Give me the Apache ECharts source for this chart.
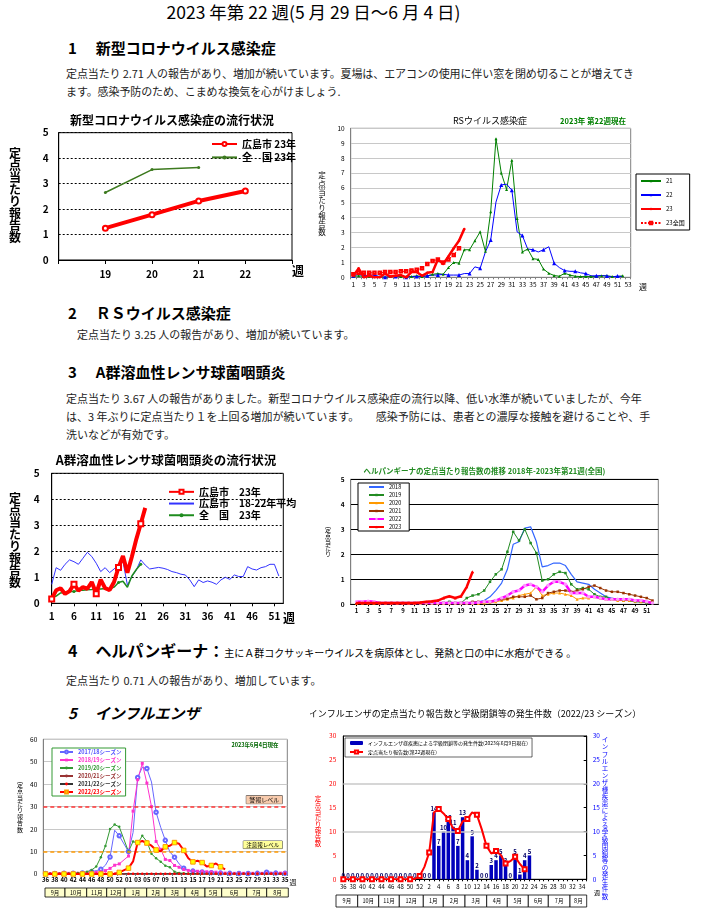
<!DOCTYPE html>
<html lang="ja">
<head>
<meta charset="utf-8">
<title>2023年第22週</title>
<script src="https://cdn.jsdelivr.net/npm/echarts@6/dist/echarts.min.js"></script>
<style>
html,body{margin:0;padding:0;background:#fff;}
body{width:711px;height:912px;position:relative;overflow:hidden;font-family:"Noto Sans CJK JP","Noto Sans",sans-serif;color:#111;}
.t{position:absolute;white-space:nowrap;line-height:1;}
.h{font-size:15px;font-weight:bold;color:#000;}
.p{font-size:11px;line-height:18px;color:#222;}
.chart{position:absolute;}
</style>
</head>
<body>
<div class="t" style="left:160px;top:3px;width:307px;text-align:center;font-size:17.5px;color:#000;">2023 年第 22 週(5 月 29 日～6 月 4 日)</div>

<div class="t h" style="left:68px;top:39.5px;"><span>1</span><span style="margin-left:19px;">新型コロナウイルス感染症</span></div>
<div class="t p" style="left:66px;top:64px;letter-spacing:-0.1px;">定点当たり 2.71 人の報告があり、増加が続いています。夏場は、エアコンの使用に伴い窓を閉め切ることが増えてき<br>ます。感染予防のため、こまめな換気を心がけましょう.</div>

<div class="t h" style="left:68px;top:304.5px;"><span>2</span><span style="margin-left:19px;">ＲＳウイルス感染症</span></div>
<div class="t p" style="left:77px;top:325px;">定点当たり 3.25 人の報告があり、増加が続いています。</div>

<div class="t h" style="left:68px;top:363.5px;"><span>3</span><span style="margin-left:19px;">A群溶血性レンサ球菌咽頭炎</span></div>
<div class="t p" style="left:66px;top:389px;">定点当たり 3.67 人の報告がありました。新型コロナウイルス感染症の流行以降、低い水準が続いていましたが、今年<br>は、3 年ぶりに定点当たり１を上回る増加が続いています。　　感染予防には、患者との濃厚な接触を避けることや、手<br>洗いなどが有効です。</div>

<div class="t" style="left:68px;top:642px;line-height:16px;color:#000;"><span style="font-size:16px;font-weight:bold;">4</span><span style="font-size:16px;font-weight:bold;margin-left:18px;">ヘルパンギーナ：</span><span style="font-size:10px;">主にＡ群コクサッキーウイルスを病原体とし、発熱と口の中に水疱ができる 。</span></div>
<div class="t p" style="left:66px;top:671px;">定点当たり 0.71 人の報告があり、増加しています。</div>

<div class="t" style="left:68px;top:704.5px;font-size:15px;font-weight:bold;font-style:italic;color:#000;"><span>5</span><span style="margin-left:18px;">インフルエンザ</span></div>

<div id="c1" class="chart" style="left:0px;top:108px;width:305px;height:180px;"></div>
<div id="c2" class="chart" style="left:310px;top:110px;width:400px;height:185px;"></div>
<div id="c3" class="chart" style="left:0px;top:450px;width:305px;height:175px;"></div>
<div id="c4" class="chart" style="left:310px;top:460px;width:400px;height:160px;"></div>
<div id="c5" class="chart" style="left:0px;top:725px;width:310px;height:185px;"></div>
<div id="c6" class="chart" style="left:310px;top:705px;width:401px;height:207px;"></div>

<script>
// ---------------- DATA ----------------
// 1. COVID-19
const covidWeeks = [19, 20, 21, 22];
const covidHiroshima = [1.25, 1.78, 2.32, 2.71];
const covidNational = [2.65, 3.55, 3.63];

// 2. RS virus (weeks 1-53)
const rsWeeks = Array.from({length: 53}, (_, i) => String(i + 1));
const rs2021 = [0.05,0.1,0.05,0.05,0.05,0.05,0.0,0.05,0.05,0.05,
  0.05,0.05,0.1,0.05,0.1,0.2,0.25,0.2,0.65,1.0,
  0.95,1.85,1.85,2.45,3.05,1.75,4.4,9.3,7.0,5.9,
  7.85,3.95,1.7,1.9,1.25,1.2,0.55,0.27,0.12,0.07,
  0.27,0.15,0.07,0.05,0.05,0.05,0.05,0.1,0.1,0.05,
  0.05,0.1];
const rs2022 = [0.1,0.2,0.1,0.15,0.15,0.05,0.0,0.05,0.05,0.1,
  0.0,0.05,0.05,0.05,0.1,0.15,0.15,0.2,0.15,0.15,
  0.15,0.25,0.25,0.7,0.6,1.7,2.5,5.05,6.2,6.25,
  5.85,3.05,2.8,1.9,1.85,1.7,1.85,2.05,0.95,0.65,
  0.45,0.4,0.4,0.3,0.25,0.1,0.1,0.12,0.08,0.03,
  0.08,0.05];
const rs2023 = [0.1,0.6,0.0,0.1,0.0,0.0,0.25,0.05,0.1,0.15,0.0,0.35,0.35,0.1,0.3,0.35,1.2,0.9,1.4,1.95,2.45,3.25];
const rs2023National = [0.2,0.3,0.3,0.3,0.3,0.3,0.35,0.35,0.35,0.4,0.4,0.45,0.5,0.6,0.9,1.1,1.2,1.0,1.2,1.5,1.95];

// 3. Group A streptococcal pharyngitis (weeks 1-53)
const gasWeeks = Array.from({length: 53}, (_, i) => String(i + 1));
const gasHiroshima2023 = [0.17,0.5,0.58,0.36,0.47,0.73,0.49,0.62,0.56,0.82,0.37,0.91,0.58,0.51,0.82,1.38,1.82,1.18,1.79,2.47,3.06,3.67];
const gasHiroshimaAvg = [0.73,1.37,1.27,1.5,1.67,1.6,1.5,1.73,1.96,1.8,
  1.54,1.22,1.37,1.18,1.32,1.47,1.6,0.7,1.03,1.28,
  1.67,1.47,1.32,1.35,1.38,1.35,1.3,1.22,1.18,1.12,
  1.09,0.9,0.64,0.9,0.8,0.86,0.81,0.73,0.9,1.0,
  0.92,1.09,1.03,1.03,1.41,1.32,1.28,1.37,1.41,1.5,
  1.5,1.05];
const gasNational2023 = [0.2,0.28,0.4,0.42,0.45,0.45,0.5,0.5,0.52,0.53,0.55,0.55,0.57,0.55,0.62,0.8,0.85,0.62,1.05,1.3,1.5];

// 4. Herpangina (national, weeks 1-52; axis runs 0-53)
const herpWeeks = Array.from({length: 54}, (_, i) => String(i));
const herp2018 = [0.05,0.05,0.05,0.05,0.05,0.05,0.05,0.05,0.05,0.05,
  0.05,0.05,0.05,0.05,0.05,0.05,0.05,0.05,0.05,0.05,
  0.07,0.1,0.15,0.3,0.55,0.85,1.4,2.4,2.5,3.05,
  3.1,2.5,1.5,1.55,1.65,1.65,1.55,1.2,0.9,0.85,
  0.8,0.6,0.45,0.3,0.25,0.2,0.2,0.15,0.12,0.1,
  0.07,0.05];
const herp2019 = [0.05,0.05,0.05,0.05,0.05,0.05,0.05,0.05,0.05,0.05,
  0.05,0.05,0.05,0.05,0.05,0.05,0.1,0.05,0.05,0.25,
  0.35,0.4,0.55,0.9,1.2,1.4,2.1,2.9,2.55,3.0,
  2.45,2.05,0.95,1.0,1.2,1.3,1.25,0.8,0.6,0.65,
  0.6,0.4,0.3,0.3,0.2,0.2,0.15,0.15,0.1,0.1,
  0.05,0.05];
const herp2020 = [0.03,0.03,0.03,0.03,0.03,0.03,0.03,0.03,0.03,0.03,
  0.03,0.03,0.03,0.03,0.03,0.03,0.03,0.03,0.03,0.03,
  0.03,0.03,0.05,0.07,0.1,0.15,0.2,0.25,0.35,0.4,
  0.45,0.7,0.35,0.4,0.45,0.45,0.4,0.35,0.2,0.25,
  0.25,0.3,0.25,0.2,0.2,0.15,0.15,0.15,0.12,0.1,
  0.1,0.1];
const herp2021 = [0.05,0.05,0.05,0.05,0.05,0.05,0.05,0.05,0.05,0.05,
  0.05,0.05,0.05,0.05,0.05,0.05,0.05,0.05,0.05,0.05,
  0.1,0.1,0.1,0.1,0.15,0.2,0.22,0.3,0.3,0.3,
  0.35,0.2,0.25,0.45,0.5,0.55,0.55,0.5,0.55,0.6,
  0.7,0.75,0.65,0.55,0.5,0.5,0.45,0.4,0.35,0.3,
  0.25,0.15];
const herp2022 = [0.1,0.1,0.12,0.1,0.05,0.05,0.05,0.05,0.05,0.05,
  0.05,0.05,0.05,0.05,0.05,0.05,0.05,0.05,0.05,0.05,
  0.05,0.07,0.1,0.1,0.15,0.25,0.35,0.5,0.55,0.75,
  0.8,0.7,0.5,0.75,0.9,0.9,0.8,0.45,0.45,0.45,
  0.3,0.3,0.25,0.2,0.2,0.2,0.2,0.2,0.15,0.15,
  0.1,0.05];
const herp2023 = [0.05,0.05,0.05,0.05,0.05,0.05,0.05,0.05,0.05,0.05,0.05,0.07,0.1,0.12,0.15,0.25,0.32,0.25,0.32,0.7,1.3];

// 5a. Influenza, seasons (weeks 36..53, 1..35)
const fluLWeeks = ['36','37','38','39','40','41','42','43','44','45','46','47','48','49','50','51','52','53',
  '01','02','03','04','05','06','07','08','09','10','11','12','13','14','15','16','17','18','19','20',
  '21','22','23','24','25','26','27','28','29','30','31','32','33','34','35'];
const flu1718 = [0.2,0.2,0.2,0.3,0.3,0.3,0.3,0.4,0.5,0.7,
  1.0,1.5,2.1,3.9,7.6,19.5,17.0,null,10.0,18.5,
  43.0,47.5,47.0,41.0,27.5,20.8,15.0,9.8,7.5,4.5,
  2.6,1.6,1.3,1.0,0.9,0.7,0.6,0.5,0.4,0.3,
  0.3,0.3,0.2,0.2,0.2,0.2,0.3,0.5,0.8,0.8,
  0.4,0.3,0.3];
const flu1819 = [0.2,0.2,0.2,0.2,0.3,0.3,0.3,0.3,0.4,0.4,
  0.5,0.7,1.0,1.5,2.5,3.9,4.5,null,8.0,28.0,
  42.0,49.3,40.5,30.0,14.5,11.0,6.5,6.0,3.8,3.0,
  2.0,1.6,1.3,1.2,1.1,1.0,0.9,0.8,0.5,0.4,
  0.3,0.3,0.3,0.3,0.3,0.3,0.3,0.3,0.3,0.3,
  0.3,0.4,0.5];
const flu1920 = [0.1,0.1,0.1,0.1,0.2,0.2,0.3,0.4,0.6,1.0,
  1.8,3.3,7.5,12.5,20.0,22.0,21.0,null,10.0,14.5,
  13.5,17.0,14.5,9.0,7.0,5.5,3.7,3.0,1.0,0.5,
  0.3,0.2,0.1,0.1,0.1,0.1,0.1,0.1,0.1,0.1,
  0.1,0.1,0.1,0.1,0.1,0.1,0.1,0.1,0.1,0.1,
  0.1,0.1,0.1];
const flu2021 = [0.05,0.05,0.05,0.05,0.05,0.05,0.05,0.05,0.05,0.05,
  0.05,0.05,0.05,0.05,0.05,0.05,0.05,0.05,0.05,0.05,
  0.05,0.05,0.05,0.05,0.05,0.05,0.05,0.05,0.05,0.05,
  0.05,0.05,0.05,0.05,0.05,0.05,0.05,0.05,0.05,0.05,
  0.05,0.05,0.05,0.05,0.05,0.05,0.05,0.05,0.05,0.05,
  0.05,0.05,0.05];
const flu2122 = [0.1,0.1,0.1,0.1,0.1,0.1,0.1,0.1,0.1,0.1,
  0.1,0.1,0.1,0.1,0.1,0.1,0.1,null,0.1,0.1,
  0.1,0.1,0.1,0.1,0.1,0.1,0.1,0.1,0.1,0.1,
  0.1,0.1,0.1,0.1,0.1,0.1,0.1,0.1,0.1,0.1,
  0.1,0.1,0.1,0.1,0.1,0.1,0.1,0.1,0.1,0.1,
  0.1,0.1,0.1];

// 5b. Influenza 2022/23 (weeks 36..52, 1..35)
const fluRWeeks = ['36','37','38','39','40','41','42','43','44','45','46','47','48','49','50','51','52',
  '1','2','3','4','5','6','7','8','9','10','11','12','13','14','15','16','17','18','19','20',
  '21','22','23','24','25','26','27','28','29','30','31','32','33','34','35'];
// sentinel rate, weeks 36..52 then 1..22
const fluRate2223 = [0.0,0.0,0.0,0.0,0.0,0.0,0.0,0.0,0.0,0.0,0.0,0.0,0.0,0.0,0.0,0.1,0.7,
  2.6,5.6,14.0,14.7,13.8,12.6,10.7,10.1,12.1,12.6,14.0,13.5,10.5,7.0,5.4,5.9,5.1,3.3,3.8,4.7,3.2,2.1];
// class closures, weeks 36..52 then 1..23
const fluClosures = [0,0,0,0,0,0,0,0,0,0,0,0,0,0,0,0,0,
  0,0,14,7,10,12,11,7,13,4,9,2,0,0,3,4,5,3,0,5,1,4,5];
const monthLabels = ['9月','10月','11月','12月','1月','2月','3月','4月','5月','6月','7月','8月'];

// ---------------- HELPERS ----------------
const FONT = '"Noto Sans CJK JP", "Noto Sans", sans-serif';
const NOMARK = {color: 'rgba(0,0,0,0)', borderColor: 'rgba(0,0,0,0)', borderWidth: 0};
function txt(x, y, text, size, opts) {
  opts = opts || {};
  const font = (opts.bold ? 'bold ' : '') + size + 'px ' + FONT;
  return {
    type: 'text', x: x, y: y, z: 100,
    style: {
      text: text, font: font, fill: opts.color || '#000',
      align: opts.align || 'center', textAlign: opts.align || 'center',
      verticalAlign: 'middle', textVerticalAlign: 'middle',
      lineHeight: opts.lineHeight || size
    }
  };
}
function vtxt(x, y, text, size, lh, opts) {
  opts = Object.assign({}, opts || {}, {lineHeight: lh});
  return txt(x, y, text.split('').join('\n'), size, opts);
}
function monthCells(bounds, top, h, fill, size) {
  const els = [];
  for (let i = 0; i < monthLabels.length; i++) {
    const x0 = bounds[i], x1 = bounds[i + 1];
    els.push({type: 'rect', z: 90, shape: {x: x0, y: top, width: x1 - x0, height: h},
      style: {fill: fill, stroke: '#000', lineWidth: 0.8}});
    els.push(txt((x0 + x1) / 2, top + h / 2, monthLabels[i], size));
  }
  return els;
}
function withNullAt(arr, idx) { return arr.slice(0, idx).concat([null]).concat(arr.slice(idx)); }

// ---------------- CHART 1: COVID ----------------
const c1 = echarts.init(document.getElementById('c1'));
c1.setOption({
  animation: false,
  textStyle: {fontFamily: FONT},
  grid: {left: 58.7, top: 24.7, width: 233.3, height: 127.3, show: true, borderColor: '#000', borderWidth: 1},
  xAxis: {type: 'value', min: 18, max: 23, interval: 1,
    axisLine: {lineStyle: {color: '#000'}}, axisTick: {show: true, length: 4, lineStyle: {color: '#000'}},
    splitLine: {show: false},
    axisLabel: {color: '#000', fontSize: 10, fontWeight: 'bold', margin: 9,
      formatter: v => (v >= 19 && v <= 22) ? String(v) : ''}},
  yAxis: {type: 'value', min: 0, max: 5, interval: 1,
    axisLine: {show: true, lineStyle: {color: '#000'}}, axisTick: {show: false},
    axisLabel: {color: '#000', fontSize: 10, fontWeight: 'bold', margin: 10},
    splitLine: {lineStyle: {color: '#000', type: [2, 2], width: 1}}},
  legend: {orient: 'vertical', left: 206, top: 25, itemWidth: 25, itemHeight: 5, itemGap: 1.4,
    textStyle: {fontSize: 10, fontWeight: 'bold', color: '#000', lineHeight: 12},
    data: ['広島市 23年', '全　国 23年']},
  graphic: [
    txt(172, 12, '新型コロナウイルス感染症の流行状況', 12, {bold: true}),
    vtxt(15, 87, '定点当たり報告数', 12, 12, {bold: true}),
    txt(298, 163, '週', 12, {bold: true})
  ],
  series: [
    {name: '広島市 23年', type: 'line', z: 3, data: covidWeeks.map((w, i) => [w, covidHiroshima[i]]),
      lineStyle: {color: '#ff0000', width: 4}, itemStyle: {color: '#ff0000', borderWidth: 1},
      symbol: 'emptyCircle', symbolSize: 5},
    {name: '全　国 23年', type: 'line', data: covidNational.map((v, i) => [covidWeeks[i], v]),
      lineStyle: {color: '#3d7a1f', width: 1.5}, itemStyle: {color: '#3d7a1f'},
      symbol: 'circle', symbolSize: 3}
  ]
});

// ---------------- CHART 2: RS ----------------
const c2 = echarts.init(document.getElementById('c2'));
c2.setOption({
  animation: false,
  textStyle: {fontFamily: FONT},
  grid: {left: 40.7, top: 18.3, width: 280, height: 149, show: true, borderColor: '#808080', borderWidth: 1},
  xAxis: {type: 'category', data: rsWeeks, boundaryGap: true,
    axisLine: {lineStyle: {color: '#808080'}}, axisTick: {show: true, interval: 0, length: 2, lineStyle: {color: '#808080'}},
    axisLabel: {interval: 1, color: '#000', fontSize: 6.5, margin: 4}},
  yAxis: {type: 'value', min: 0, max: 10, interval: 1,
    axisLine: {show: true, lineStyle: {color: '#808080'}}, axisTick: {show: false},
    axisLabel: {color: '#000', fontSize: 6.5, margin: 6},
    splitLine: {lineStyle: {color: '#c8c8c8', width: 1}}},
  legend: {orient: 'vertical', left: 326, top: 64, padding: [3, 5, 3, 4], itemGap: 6, itemWidth: 20, itemHeight: 3,
    borderColor: '#000', borderWidth: 1, backgroundColor: '#fff',
    textStyle: {fontSize: 6, color: '#000', lineHeight: 8},
    data: ['21', '22', '23', '23全国']},
  graphic: [
    txt(180, 11, 'RSウイルス感染症', 9),
    txt(283, 11, '2023年 第22週現在', 7.5, {bold: true, color: '#008000'}),
    vtxt(12, 94, '定点当たり報告数', 7.5, 8.1),
    txt(333, 177, '週', 8)
  ],
  series: [
    {name: '21', type: 'line', data: rs2021, lineStyle: {color: '#008000', width: 1},
      itemStyle: {color: '#008000'}, symbol: 'triangle', symbolSize: 3},
    {name: '22', type: 'line', data: rs2022, lineStyle: {color: '#0000ff', width: 1},
      itemStyle: {color: '#0000ff'}, symbol: 'triangle', symbolSize: 4},
    {name: '23', type: 'line', z: 4, data: rs2023, lineStyle: {color: '#ff0000', width: 2.5},
      itemStyle: {color: '#ff0000'}, symbol: 'circle', symbolSize: 2.5},
    {name: '23全国', type: 'line', data: rs2023National, lineStyle: {color: '#ff0000', width: 1, type: [2, 1.5]},
      itemStyle: {color: '#ff0000', borderWidth: 0.8}, symbol: 'emptyRect', symbolSize: 2.5}
  ]
});

// ---------------- CHART 3: Group A strep ----------------
const c3 = echarts.init(document.getElementById('c3'));
c3.setOption({
  animation: false,
  textStyle: {fontFamily: FONT},
  grid: {left: 51.7, top: 23.3, width: 231.6, height: 130, show: true, borderColor: '#000', borderWidth: 1},
  xAxis: {type: 'category', data: gasWeeks, boundaryGap: false,
    axisLine: {lineStyle: {color: '#000'}}, axisTick: {show: true, interval: 4, length: 3, lineStyle: {color: '#000'}},
    axisLabel: {interval: 4, color: '#000', fontSize: 10, fontWeight: 'bold', margin: 8}},
  yAxis: {type: 'value', min: 0, max: 5, interval: 1,
    axisLine: {show: true, lineStyle: {color: '#000'}}, axisTick: {show: false},
    axisLabel: {color: '#000', fontSize: 10, fontWeight: 'bold', margin: 12},
    splitLine: {lineStyle: {color: '#000', type: [2, 2], width: 1}}},
  legend: {orient: 'vertical', left: 163, top: 31, itemWidth: 25, itemHeight: 5, itemGap: 0,
    textStyle: {fontSize: 10, fontWeight: 'bold', color: '#000', lineHeight: 11.7},
    data: ['広島市　23年', {name: '広島市　18-22年平均', itemStyle: NOMARK}, '全　国　23年']},
  graphic: [
    txt(166, 10, 'A群溶血性レンサ球菌咽頭炎の流行状況', 12.5, {bold: true}),
    vtxt(15, 90, '定点当たり報告数', 12, 12, {bold: true}),
    txt(289, 168, '週', 12, {bold: true})
  ],
  series: [
    {name: '広島市　23年', type: 'line', z: 4, data: gasHiroshima2023,
      lineStyle: {color: '#ff0000', width: 4}, itemStyle: {color: '#ff0000', borderWidth: 1},
      symbol: 'emptyRect', symbolSize: 5},
    {name: '広島市　18-22年平均', type: 'line', data: gasHiroshimaAvg,
      lineStyle: {color: '#3333ff', width: 1}, itemStyle: {color: '#3333ff'}, symbol: 'none'},
    {name: '全　国　23年', type: 'line', z: 3, data: gasNational2023,
      lineStyle: {color: '#1e8c1e', width: 1.5}, itemStyle: {color: '#1e8c1e'}, symbol: 'circle', symbolSize: 3}
  ]
});

// ---------------- CHART 4: Herpangina ----------------
const c4 = echarts.init(document.getElementById('c4'));
c4.setOption({
  animation: false,
  textStyle: {fontFamily: FONT},
  grid: {left: 40.7, top: 19.3, width: 307.6, height: 125, show: true, borderColor: '#808080', borderWidth: 1},
  xAxis: {type: 'category', data: herpWeeks, boundaryGap: false,
    axisLine: {lineStyle: {color: '#000'}},
    axisTick: {show: true, length: 2, interval: (i) => i % 2 === 1 && i <= 51, lineStyle: {color: '#000'}},
    axisLabel: {interval: (i) => i % 2 === 1 && i <= 51, color: '#000', fontSize: 6, fontWeight: 'bold', margin: 3}},
  yAxis: {type: 'value', min: 0, max: 5, interval: 1,
    axisLine: {show: true, lineStyle: {color: '#808080'}}, axisTick: {show: false},
    axisLabel: {color: '#000', fontSize: 6.5, fontWeight: 'bold', margin: 6},
    splitLine: {lineStyle: {color: '#000', width: 1}}},
  legend: {orient: 'vertical', left: 48, top: 23, padding: [1, 8, 1, 10], itemGap: 2, itemWidth: 15, itemHeight: 3,
    borderColor: '#000', borderWidth: 1, backgroundColor: '#fff',
    textStyle: {fontSize: 5.5, color: '#000', lineHeight: 6},
    data: [{name: '2018', itemStyle: NOMARK}, '2019', '2020', '2021', '2022', '2023']},
  graphic: [
    txt(174.5, 11, 'ヘルパンギーナの定点当たり報告数の推移 2018年-2023年第21週(全国)', 7.5, {bold: true, color: '#228b22'}),
    vtxt(18, 82, '定点当たり', 6, 6)
  ],
  series: [
    {name: '2018', type: 'line', data: [null].concat(herp2018), lineStyle: {color: '#3366ff', width: 1.2},
      itemStyle: {color: '#3366ff'}, symbol: 'none'},
    {name: '2019', type: 'line', data: [null].concat(herp2019), lineStyle: {color: '#228b22', width: 1},
      itemStyle: {color: '#228b22'}, symbol: 'rect', symbolSize: 2.5},
    {name: '2020', type: 'line', data: [null].concat(herp2020), lineStyle: {color: '#ff9900', width: 1},
      itemStyle: {color: '#ff9900'}, symbol: 'triangle', symbolSize: 3},
    {name: '2021', type: 'line', data: [null].concat(herp2021), lineStyle: {color: '#993300', width: 1},
      itemStyle: {color: '#993300'}, symbol: 'rect', symbolSize: 2.5},
    {name: '2022', type: 'line', data: [null].concat(herp2022), lineStyle: {color: '#ff00ff', width: 2.5},
      itemStyle: {color: '#ff99ff'}, symbol: 'circle', symbolSize: 3.5},
    {name: '2023', type: 'line', z: 5, data: [null].concat(herp2023), lineStyle: {color: '#ff0000', width: 2.5},
      itemStyle: {color: '#ff0000'}, symbol: 'triangle', symbolSize: 3}
  ]
});

// ---------------- CHART 5: Influenza seasons ----------------
const fluLMonthBounds = [45, 65, 86.7, 106.7, 125, 146.7, 165, 185, 205, 221.7, 246.7, 266.7, 288.3];
const c5 = echarts.init(document.getElementById('c5'));
c5.setOption({
  animation: false,
  textStyle: {fontFamily: FONT},
  grid: {left: 43.3, top: 14.3, width: 244, height: 134.7, show: true, borderColor: '#808080', borderWidth: 1},
  xAxis: {type: 'category', data: fluLWeeks, boundaryGap: true,
    axisLine: {lineStyle: {color: '#808080'}}, axisTick: {show: true, interval: 1, length: 2, lineStyle: {color: '#808080'}},
    axisLabel: {interval: 1, color: '#000', fontSize: 6, fontWeight: 'bold', margin: 3}},
  yAxis: {type: 'value', min: 0, max: 60, interval: 10,
    axisLine: {show: true, lineStyle: {color: '#808080'}}, axisTick: {show: false},
    axisLabel: {color: '#000', fontSize: 6.5, margin: 6},
    splitLine: {lineStyle: {color: '#c8c8c8', width: 1}}},
  legend: {orient: 'vertical', left: 52, top: 23, padding: [1, 4, 1, 7], itemGap: 2, itemWidth: 13, itemHeight: 3.5,
    borderColor: '#339933', borderWidth: 1, backgroundColor: '#fff',
    textStyle: {fontSize: 5.5, fontWeight: 'bold', lineHeight: 6},
    data: [
      {name: '2017/18シーズン', textStyle: {color: '#5555ff'}},
      {name: '2018/19シーズン', textStyle: {color: '#ff33cc'}},
      {name: '2019/20シーズン', textStyle: {color: '#339933'}},
      {name: '2020/21シーズン', textStyle: {color: '#993333'}},
      {name: '2021/22シーズン', textStyle: {color: '#333333'}},
      {name: '2022/23シーズン', textStyle: {color: '#ff0000'}}
    ]},
  graphic: [
    txt(255, 20, '2023年6月4日現在', 5.5, {bold: true, color: '#006600'}),
    vtxt(20, 82, '定点当たり報告数', 6, 6.4),
    txt(293, 157, '週', 7)
  ].concat(monthCells(fluLMonthBounds, 163, 9, '#ffffcc', 5.5)),
  series: [
    {name: '2017/18シーズン', type: 'line', data: flu1718, connectNulls: true,
      lineStyle: {color: '#6666ff', width: 1}, itemStyle: {color: '#6666ff', borderWidth: 0.8},
      symbol: 'emptyCircle', symbolSize: 3.5,
      markLine: {silent: true, symbol: 'none', animation: false,
        data: [
          {yAxis: 30, lineStyle: {color: '#ff3333', type: [4, 3], width: 1.5},
            label: {show: true, position: 'insideEndTop', formatter: '警報レベル', fontSize: 6, color: '#000',
              backgroundColor: '#f8cbad', borderColor: '#444', borderWidth: 0.5, padding: [1, 3], distance: [5, 3]}},
          {yAxis: 10, lineStyle: {color: '#ff9900', type: [4, 3], width: 1.5},
            label: {show: true, position: 'insideEndTop', formatter: '注意報レベル', fontSize: 5.5, color: '#000',
              backgroundColor: '#ffff99', borderColor: '#444', borderWidth: 0.5, padding: [1, 3], distance: [5, 3]}}
        ]}},
    {name: '2018/19シーズン', type: 'line', data: flu1819, connectNulls: true,
      lineStyle: {color: '#ff33cc', width: 1}, itemStyle: {color: '#ff33cc'}, symbol: 'rect', symbolSize: 3},
    {name: '2019/20シーズン', type: 'line', data: flu1920, connectNulls: true,
      lineStyle: {color: '#339933', width: 1}, itemStyle: {color: '#339933'}, symbol: 'circle', symbolSize: 2.5},
    {name: '2020/21シーズン', type: 'line', data: flu2021, connectNulls: true,
      lineStyle: {color: '#993333', width: 1}, itemStyle: {color: '#993333'}, symbol: 'circle', symbolSize: 2},
    {name: '2021/22シーズン', type: 'line', data: flu2122, connectNulls: true,
      lineStyle: {color: '#333333', width: 1}, itemStyle: {color: '#ff0000'}, symbol: 'circle', symbolSize: 2.5},
    {name: '2022/23シーズン', type: 'line', z: 5, data: withNullAt(fluRate2223, 17), connectNulls: true,
      lineStyle: {color: '#ff0000', width: 2}, itemStyle: {color: '#ffff00', borderColor: '#ff9900', borderWidth: 1},
      symbol: 'rect', symbolSize: 4.5}
  ]
});

// ---------------- CHART 6: Influenza 2022/23 & closures ----------------
const fluRMonthBounds = [26, 47.7, 68.7, 89.3, 113.3, 133.3, 155, 176.7, 197.3, 218.3, 238.3, 260, 276.7];
const c6 = echarts.init(document.getElementById('c6'));
c6.setOption({
  animation: false,
  textStyle: {fontFamily: FONT},
  grid: {left: 33.3, top: 31, width: 243.4, height: 143.3, show: true, borderColor: '#000', borderWidth: 1},
  xAxis: {type: 'category', data: fluRWeeks, boundaryGap: false,
    axisLine: {lineStyle: {color: '#000'}}, axisTick: {show: true, interval: 0, length: 2, lineStyle: {color: '#000'}},
    axisLabel: {interval: 1, color: '#000', fontSize: 6, margin: 4}},
  yAxis: [
    {type: 'value', min: 0, max: 30, interval: 5, position: 'left',
      axisLine: {show: true, lineStyle: {color: '#000'}}, axisTick: {show: false},
      axisLabel: {color: '#ff0000', fontSize: 6.5, margin: 7}, splitLine: {show: false}},
    {type: 'value', min: 0, max: 30, interval: 5, position: 'right',
      axisLine: {show: true, lineStyle: {color: '#000'}}, axisTick: {show: true, inside: true, length: 3, lineStyle: {color: '#000'}},
      axisLabel: {color: '#0000ff', fontSize: 6.5, margin: 6}, splitLine: {show: false}}
  ],
  legend: {orient: 'vertical', left: 35, top: 33, padding: [2, 4, 2, 4], itemGap: 3, itemWidth: 13, itemHeight: 4,
    borderColor: '#000', borderWidth: 0.6, backgroundColor: '#fff',
    textStyle: {fontSize: 5, color: '#000', lineHeight: 6},
    data: ['インフルエンザ様疾患による学級閉鎖等の発生件数(2023年6月9日現在)', '定点当たり報告数(第22週現在)']},
  graphic: [
    txt(165, 9, 'インフルエンザの定点当たり報告数と学級閉鎖等の発生件数（2022/23 シーズン）', 9),
    vtxt(8, 116, '定点当たり報告数', 6.5, 6.5, {color: '#ff0000'}),
    vtxt(295, 113, 'インフルエンザ様疾患による学級閉鎖等の発生件数', 6.5, 7.1, {color: '#0000ff'}),
    txt(287, 188, '週', 6)
  ].concat(monthCells(fluRMonthBounds, 190, 12, '#ffffff', 5.5)),
  series: [
    {name: 'インフルエンザ様疾患による学級閉鎖等の発生件数(2023年6月9日現在)', type: 'bar', yAxisIndex: 1,
      data: fluClosures, barWidth: 3.5, itemStyle: {color: '#0000bb'},
      label: {show: true, position: 'top', distance: 1, fontSize: 6, fontWeight: 'bold', color: '#000066'},
      markLine: {silent: true, symbol: 'none', animation: false, label: {show: false},
        lineStyle: {color: '#c8c8c8', type: 'solid', width: 1.5},
        data: [{yAxis: 10}, {yAxis: 20}]}},
    {name: '定点当たり報告数(第22週現在)', type: 'line', yAxisIndex: 0, z: 5, data: fluRate2223,
      lineStyle: {color: '#ff0000', width: 2}, itemStyle: {color: '#ff0000', borderWidth: 1},
      symbol: 'emptyRect', symbolSize: 4}
  ]
});
</script>
</body>
</html>
